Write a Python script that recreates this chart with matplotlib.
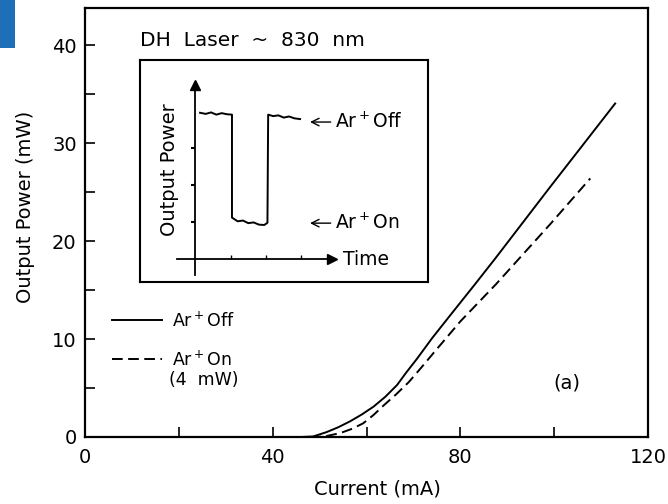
import matplotlib
matplotlib.use("Agg")
import matplotlib.pyplot as plt
from matplotlib.patches import Rectangle

# L-I curves, DH laser at 830 nm
current_off = [46, 48.6, 51.5, 54.0, 56.5, 59.0, 61.5, 64.0, 66.5, 68.5, 70.7, 74.0, 77.8, 82.8,
               87.4, 99.1, 113.0]
power_off = [0, 0.05, 0.5, 1.0, 1.6, 2.3, 3.1, 4.1, 5.3, 6.6, 7.95, 10.1, 12.4, 15.4,
             18.2, 25.5, 34.05]

current_on = [48, 51, 54.4, 57.0, 59.3, 61.5, 63.6, 66.3, 69.0, 71.7, 74.5, 80.0, 87.6, 99.1, 107.7]
power_on = [0, 0.05, 0.4, 0.85, 1.4, 2.25, 3.2, 4.35, 5.6, 7.1, 8.7, 11.8, 15.6, 21.7, 26.4]

# inset: output power vs time while Ar+ is switched
inset_time = [0.14, 0.3, 0.45, 0.6, 0.75, 0.9, 1.04, 1.04, 1.2, 1.35, 1.5, 1.65, 1.8, 1.95, 2.04,
              2.06, 2.2, 2.35, 2.5, 2.65, 2.8, 2.96]
inset_power = [3.95, 3.92, 3.96, 3.90, 3.94, 3.91, 3.90, 1.12, 1.02, 1.04, 0.97, 0.99, 0.93, 0.92, 0.98,
               3.90, 3.86, 3.88, 3.82, 3.85, 3.80, 3.78]

plt.rcParams['mathtext.default'] = 'regular'
plt.rcParams['font.family'] = 'DejaVu Sans'

fig = plt.figure(figsize=(6.68, 5.04), dpi=100)
W, H = 668, 504


def px_box(x0, y0, x1, y1):
    # figure-fraction rect from pixel corners (top-left origin)
    return [x0 / W, 1 - y1 / H, (x1 - x0) / W, (y1 - y0) / H]


ax = fig.add_axes(px_box(85, 8, 648, 437))

ax.plot(current_off, power_off, color='black', lw=1.4, label='Ar$^+$Off')
ax.plot(current_on, power_on, color='black', lw=1.4, linestyle=(0, (5.5, 2.8)), label='Ar$^+$On')

ax.set_xlim(0, 120)
ax.set_ylim(0, 43.8)
ax.set_xticks([0, 40, 80, 120])
ax.set_xticks([20, 60, 100], minor=True)
ax.set_yticks([0, 10, 20, 30, 40])
ax.set_yticks([5, 15, 25, 35], minor=True)
ax.tick_params(which='both', direction='in', length=7, width=1.2, top=False, right=False,
               labelsize=14)
ax.tick_params(axis='x', pad=8)
ax.tick_params(axis='y', pad=6)
for s in ax.spines.values():
    s.set_linewidth(1.6)

ax.set_xlabel('Current (mA)', fontsize=14)
ax.set_ylabel('Output Power (mW)', fontsize=14)
ax.xaxis.set_label_coords(0.52, -0.10)
ax.yaxis.set_label_coords(-0.089, 0.536)

ax.text(11.7, 40.5, 'DH  Laser  ~  830  nm', fontsize=14.5, ha='left', va='center')
ax.text(102.8, 5.5, '(a)', fontsize=14, ha='center', va='center')

leg = ax.legend(loc='upper left', bbox_to_anchor=(0.035, 0.31), frameon=False, fontsize=12.5,
                handlelength=2.9, handletextpad=0.6, labelspacing=1.15, borderaxespad=0)
ax.text(18.0, 5.8, '(4  mW)', fontsize=12.5, ha='left', va='center')

# inset frame
ax_box = fig.add_axes(px_box(140, 60, 428, 282))
ax_box.set_xticks([])
ax_box.set_yticks([])
for s in ax_box.spines.values():
    s.set_linewidth(1.5)

# inset trace with arrow axes
ax_t = fig.add_axes(px_box(177, 85, 332, 275))
ax_t.patch.set_visible(False)
ax_t.plot(inset_time, inset_power, color='black', lw=1.4)
ax_t.set_xlim(-0.51, 3.86)
ax_t.set_ylim(-0.43, 4.7)
ax_t.spines['left'].set_position(('data', 0))
ax_t.spines['bottom'].set_position(('data', 0))
ax_t.spines['top'].set_visible(False)
ax_t.spines['right'].set_visible(False)
ax_t.spines['left'].set_linewidth(1.3)
ax_t.spines['bottom'].set_linewidth(1.3)
ax_t.set_xticks([1, 2, 3])
ax_t.set_yticks([1, 2, 3])
ax_t.set_xticklabels([])
ax_t.set_yticklabels([])
ax_t.tick_params(axis='x', direction='in', length=3, width=1)
ax_t.tick_params(axis='y', direction='out', length=3, width=1.5)
ax_t.plot(1, 0, '>k', ms=7, transform=ax_t.get_yaxis_transform(), clip_on=False)
ax_t.plot(0, 1, '^k', ms=7, transform=ax_t.get_xaxis_transform(), clip_on=False)

ax_t.text(1.07, 0, 'Time', fontsize=13.5, ha='left', va='center',
          transform=ax_t.get_yaxis_transform())
ax_t.text(0.01, 0.555, 'Output Power', fontsize=14, rotation=90, ha='right', va='center',
          transform=ax_t.transAxes)

for lab, y in [('Ar$^+$Off', 3.70), ('Ar$^+$On', 0.97)]:
    ax_t.annotate(lab, xy=(3.24, y), xytext=(3.94, y), fontsize=13.5, ha='left', va='center',
                  arrowprops=dict(arrowstyle='->', lw=1, color='black', shrinkA=1, shrinkB=0),
                  annotation_clip=False)

# cropped page icon in the top-left corner
fig.patches.append(Rectangle((0, 1 - 48 / H), 15 / W, 48 / H, transform=fig.transFigure,
                             facecolor='#1d6fb8', edgecolor='none'))

fig.savefig('out.png', dpi=100)
plt.close(fig)
